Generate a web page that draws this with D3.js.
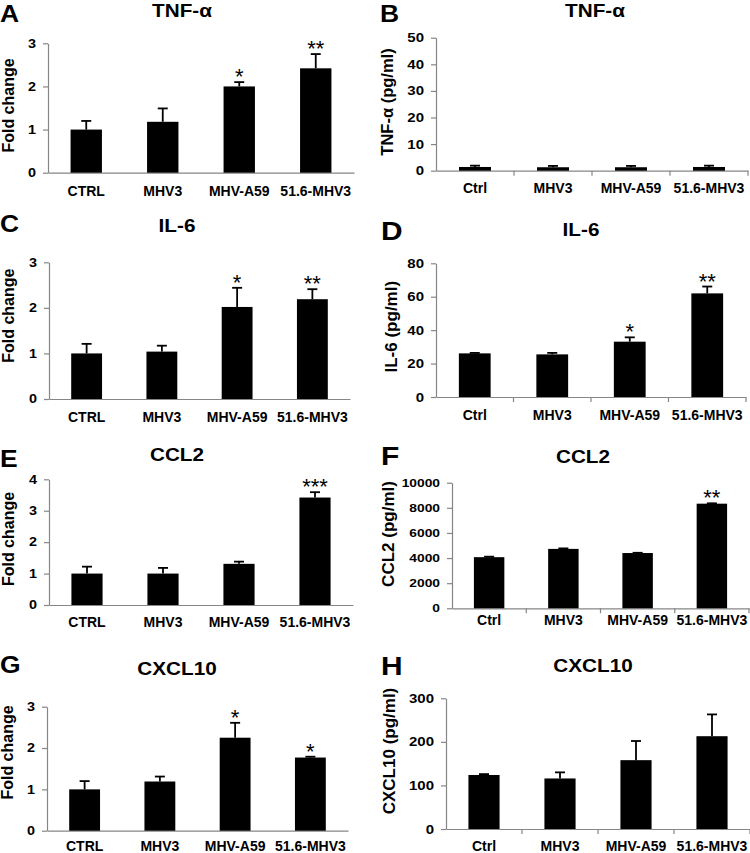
<!DOCTYPE html>
<html>
<head>
<meta charset="utf-8">
<script src="https://cdn.jsdelivr.net/npm/d3@7"></script>
<style>
  html, body { margin: 0; padding: 0; background: #fff; }
  svg { display: block; }
  text { font-family: "Liberation Sans", Arial, Helvetica, sans-serif; }
</style>
</head>
<body>
<svg id="chart" width="750" height="853"></svg>
<script>
// ---------------- DATA ----------------
const categoriesFold = ["CTRL", "MHV3", "MHV-A59", "51.6-MHV3"];
const categoriesConc = ["Ctrl", "MHV3", "MHV-A59", "51.6-MHV3"];

// A: TNF-α fold change
const tnfFold = [1.0, 1.18, 2.0, 2.42];
const tnfFoldErr = [0.2, 0.31, 0.1, 0.33];
const tnfFoldStars = ["", "", "*", "**"];
// B: TNF-α pg/ml
const tnfConc = [1.4, 1.3, 1.3, 1.4];
const tnfConcErr = [0.5, 0.5, 0.5, 0.5];
const tnfConcStars = ["", "", "", ""];
// C: IL-6 fold change
const il6Fold = [1.0, 1.04, 2.02, 2.19];
const il6FoldErr = [0.21, 0.13, 0.42, 0.22];
const il6FoldStars = ["", "", "*", "**"];
// D: IL-6 pg/ml
const il6Conc = [26.1, 25.5, 33.1, 62.0];
const il6ConcErr = [0.3, 0.9, 2.6, 4.1];
const il6ConcStars = ["", "", "*", "**"];
// E: CCL2 fold change
const ccl2Fold = [1.0, 1.0, 1.31, 3.42];
const ccl2FoldErr = [0.22, 0.18, 0.07, 0.17];
const ccl2FoldStars = ["", "", "", "***"];
// F: CCL2 pg/ml
const ccl2Conc = [4070, 4730, 4400, 8330];
const ccl2ConcErr = [40, 40, 20, 30];
const ccl2ConcStars = ["", "", "", "**"];
// G: CXCL10 fold change
const cxcl10Fold = [1.0, 1.19, 2.25, 1.77];
const cxcl10FoldErr = [0.2, 0.12, 0.36, 0.02];
const cxcl10FoldStars = ["", "", "*", "*"];
// H: CXCL10 pg/ml
const cxcl10Conc = [124, 116, 158, 213];
const cxcl10ConcErr = [2, 14, 44, 50];
const cxcl10ConcStars = ["", "", "", ""];

// tick labels
const foldTicks3 = [0, 1, 2, 3];
const foldTicks4 = [0, 1, 2, 3, 4];
const tnfConcTicks = [0, 10, 20, 30, 40, 50];
const il6ConcTicks = [0, 20, 40, 60, 80];
const ccl2ConcTicks = [0, 2000, 4000, 6000, 8000, 10000];
const cxcl10ConcTicks = [0, 100, 200, 300];

// titles / labels
const panelLetters = ["A", "B", "C", "D", "E", "F", "G", "H"];
const panelTitles = ["TNF-α", "TNF-α", "IL-6", "IL-6", "CCL2", "CCL2", "CXCL10", "CXCL10"];
const yLabels = ["Fold change", "TNF-α (pg/ml)", "Fold change", "IL-6 (pg/ml)",
                 "Fold change", "CCL2 (pg/ml)", "Fold change", "CXCL10 (pg/ml)"];

// ---------------- LAYOUT (positions/styles) ----------------
const panels = [
  { i:0, cats:categoriesFold, vals:tnfFold, errs:tnfFoldErr, stars:tnfFoldStars, ticks:foldTicks3,
    x0:48, x1:354, y0:172.7, yTop:43.3, letter:[0,21.7,23], title:[182,17], ylab:[13.5,105.5,16], labY:196, tickFont:12, xTicks:false },
  { i:1, cats:categoriesConc, vals:tnfConc, errs:tnfConcErr, stars:tnfConcStars, ticks:tnfConcTicks,
    x0:436, x1:748, y0:170.7, yTop:37.7, letter:[380,21.7,23], title:[595,17], ylab:[392.5,102,16.5], labY:193, tickFont:12.5, xTicks:true },
  { i:2, cats:categoriesFold, vals:il6Fold, errs:il6FoldErr, stars:il6FoldStars, ticks:foldTicks3,
    x0:49, x1:350, y0:399, yTop:262.3, letter:[0,231.7,23], title:[177,232], ylab:[13.5,315.7,16], labY:422, tickFont:12, xTicks:false },
  { i:3, cats:categoriesConc, vals:il6Conc, errs:il6ConcErr, stars:il6ConcStars, ticks:il6ConcTicks,
    x0:436, x1:746, y0:397, yTop:263.3, letter:[381,240,26], title:[581,236], ylab:[397,326.7,17], labY:420, tickFont:12.5, xTicks:true },
  { i:4, cats:categoriesFold, vals:ccl2Fold, errs:ccl2FoldErr, stars:ccl2FoldStars, ticks:foldTicks4,
    x0:49, x1:353, y0:605, yTop:479.3, letter:[0,466.7,23], title:[177,461], ylab:[13.5,539,16], labY:627, tickFont:12, xTicks:false },
  { i:5, cats:categoriesConc, vals:ccl2Conc, errs:ccl2ConcErr, stars:ccl2ConcStars, ticks:ccl2ConcTicks,
    x0:452, x1:749, y0:608.3, yTop:482.7, letter:[381,465,26], title:[583,463], ylab:[394,534,17], labY:625, tickFont:11.5, xTicks:true },
  { i:6, cats:categoriesFold, vals:cxcl10Fold, errs:cxcl10FoldErr, stars:cxcl10FoldStars, ticks:foldTicks3,
    x0:47, x1:348, y0:830.7, yTop:706.7, letter:[0,673,23], title:[177,675], ylab:[13,752.5,16], labY:851, tickFont:12, xTicks:false },
  { i:7, cats:categoriesConc, vals:cxcl10Conc, errs:cxcl10ConcErr, stars:cxcl10ConcStars, ticks:cxcl10ConcTicks,
    x0:446, x1:750, y0:829, yTop:698.3, letter:[381,675,26], title:[593,672], ylab:[395,751,17], labY:851, tickFont:12.5, xTicks:true }
];

const AXIS_COLOR = "#868686";
const FONT = '"Liberation Sans", Arial, sans-serif';
const svg = d3.select("#chart");

panels.forEach(p => {
  const g = svg.append("g");
  const n = p.cats.length;
  const x = d3.scaleBand().domain(p.cats).range([p.x0, p.x1]).paddingInner(0.59).paddingOuter(0.295);
  const ymax = p.ticks[p.ticks.length - 1];
  const y = d3.scaleLinear().domain([0, ymax]).range([p.y0, p.yTop]);
  const step = (p.x1 - p.x0) / n;

  // letter (slightly widened like the original typeface)
  g.append("text").attr("transform", `translate(${p.letter[0]},${p.letter[1]}) scale(1.15,1)`)
    .attr("font-size", p.letter[2]).attr("font-weight", "bold").text(panelLetters[p.i]);
  // title
  g.append("text").attr("transform", `translate(${p.title[0]},${p.title[1]}) scale(1.15,1)`)
    .attr("text-anchor", "middle")
    .attr("font-size", 18).attr("font-weight", "bold").text(panelTitles[p.i]);
  // y label
  g.append("text").attr("transform", `translate(${p.ylab[0]},${p.ylab[1]}) rotate(-90)`)
    .attr("text-anchor", "middle").attr("font-size", p.ylab[2]).attr("font-weight", "bold").text(yLabels[p.i]);

  // y axis
  const yAxis = d3.axisLeft(y).tickValues(p.ticks).tickSize(5).tickSizeOuter(0).tickPadding(7)
    .tickFormat(d3.format("d"));
  const ya = g.append("g").attr("transform", `translate(${p.x0},0)`).call(yAxis);
  ya.select(".domain").attr("stroke", AXIS_COLOR).attr("stroke-width", 1.2);
  ya.selectAll(".tick line").attr("stroke", AXIS_COLOR).attr("stroke-width", 1.2);
  ya.selectAll(".tick text")
    .attr("x", null)
    .attr("transform", "translate(-12,0) scale(1.2,1)")
    .attr("font-size", p.tickFont).attr("font-weight", "bold")
    .attr("fill", "#000").style("font-family", FONT);

  // x axis (labels via axisBottom)
  const fs = 14;
  const pad = p.labY - p.y0 - 0.71 * fs;
  const xAxis = d3.axisBottom(x).tickSize(0).tickSizeOuter(0).tickPadding(pad);
  const xa = g.append("g").attr("transform", `translate(0,${p.y0})`).call(xAxis);
  xa.select(".domain").attr("stroke", AXIS_COLOR).attr("stroke-width", 1.2);
  xa.selectAll(".tick text").attr("font-size", fs).attr("font-weight", "bold")
    .attr("fill", "#000").style("font-family", FONT);
  if (p.xTicks) {
    const bounds = d3.range(1, n + 1).map(k => p.x0 + k * step);
    g.selectAll(".bt").data(bounds).enter().append("line")
      .attr("x1", d => d).attr("x2", d => d).attr("y1", p.y0).attr("y2", p.y0 + 5)
      .attr("stroke", AXIS_COLOR).attr("stroke-width", 1.2);
  }

  const data = p.cats.map((c, k) => ({ c, v: p.vals[k], e: p.errs[k], s: p.stars[k] }));
  // bars
  g.selectAll(".bar").data(data).enter().append("rect")
    .attr("x", d => x(d.c)).attr("width", x.bandwidth())
    .attr("y", d => y(d.v)).attr("height", d => p.y0 - y(d.v)).attr("fill", "#000");
  // error bars
  const cx = d => x(d.c) + x.bandwidth() / 2;
  g.selectAll(".ev").data(data).enter().append("line")
    .attr("x1", cx).attr("x2", cx).attr("y1", d => y(d.v)).attr("y2", d => y(d.v + d.e))
    .attr("stroke", "#000").attr("stroke-width", 1.8);
  g.selectAll(".ec").data(data).enter().append("line")
    .attr("x1", d => cx(d) - 5).attr("x2", d => cx(d) + 5)
    .attr("y1", d => y(d.v + d.e)).attr("y2", d => y(d.v + d.e))
    .attr("stroke", "#000").attr("stroke-width", 1.8);
  // stars
  g.selectAll(".st").data(data.filter(d => d.s)).enter().append("text")
    .attr("x", cx).attr("y", d => y(d.v + d.e) + 2).attr("text-anchor", "middle")
    .attr("font-size", 22).text(d => d.s);
});
</script>
</body>
</html>
